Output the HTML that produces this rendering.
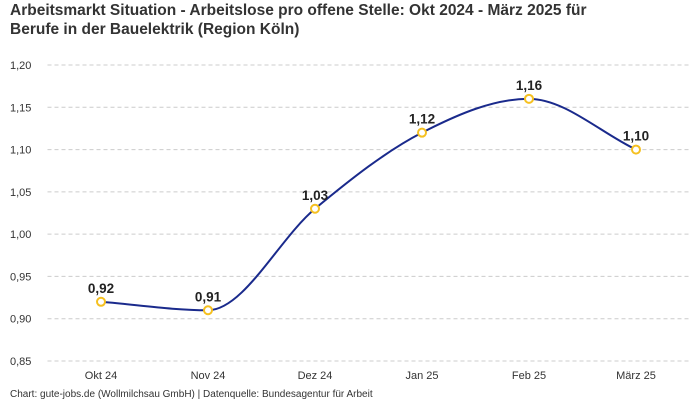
<!DOCTYPE html>
<html><head><meta charset="utf-8"><style>
body{margin:0;background:#fff;font-family:"Liberation Sans",sans-serif;}
#wrap{position:relative;width:700px;height:400px;overflow:hidden;}
</style></head><body>
<div id="wrap">
<svg id="svg" width="700" height="400" xmlns="http://www.w3.org/2000/svg">
<text x="10" y="15" font-size="15.5" font-weight="bold" fill="#333">Arbeitsmarkt Situation - Arbeitslose pro offene Stelle: Okt 2024 - März 2025 für</text>
<text x="10" y="34" font-size="15.5" font-weight="bold" fill="#333">Berufe in der Bauelektrik (Region Köln)</text>
<text x="10" y="397" font-size="10" fill="#333">Chart: gute-jobs.de (Wollmilchsau GmbH) | Datenquelle: Bundesagentur für Arbeit</text>
<g id="grid"></g><g id="plot"></g>
</svg></div>
<script>
const categories=["Okt 24","Nov 24","Dez 24","Jan 25","Feb 25","März 25"];
const values=[0.92,0.91,1.03,1.12,1.16,1.10];
const yTicks=[0.85,0.90,0.95,1.00,1.05,1.10,1.15,1.20];
const NS="http://www.w3.org/2000/svg";
const x0=47.5,x1=689.5,yMin=0.85,yMax=1.20,yTop=65,yBot=361;
const band=(x1-x0)/categories.length;
const xs=i=>x0+band*(i+0.5);
const ys=v=>yBot-(v-yMin)/(yMax-yMin)*(yBot-yTop);
const fmt=v=>v.toFixed(2).replace('.',',');
function mk(t,a,p){const e=document.createElementNS(NS,t);for(const k in a)e.setAttribute(k,a[k]);p.appendChild(e);return e;}
const grid=document.getElementById('grid'),plot=document.getElementById('plot');
yTicks.forEach(v=>{
 const l=mk('line',{x1:x0,x2:x1,y1:ys(v),y2:ys(v),stroke:'#ccc','stroke-dasharray':'4,3'},grid);
 
 
 const t=mk('text',{x:10,y:ys(v)+4,'font-size':11,fill:'#333'},grid);t.textContent=fmt(v);
 
 
});
categories.forEach((c,i)=>{
 const t=mk('text',{x:xs(i),y:379,'font-size':11,fill:'#333','text-anchor':'middle'},grid);t.textContent=c;
 
 
});
// monotone cubic
const P=values.map((v,i)=>[xs(i),ys(v)]);const n=P.length;
const d=[],m=[];for(let i=0;i<n-1;i++)d.push((P[i+1][1]-P[i][1])/(P[i+1][0]-P[i][0]));
m[0]=d[0];m[n-1]=d[n-2];
for(let i=1;i<n-1;i++){m[i]=(d[i-1]*d[i]<=0)?0:(d[i-1]+d[i])/2;}
for(let i=0;i<n-1;i++){if(d[i]===0){m[i]=m[i+1]=0;continue;}const a=m[i]/d[i],b=m[i+1]/d[i],s=a*a+b*b;if(s>9){const t=3/Math.sqrt(s);m[i]=t*a*d[i];m[i+1]=t*b*d[i];}}
let path=`M${P[0][0]},${P[0][1]}`;
for(let i=0;i<n-1;i++){const h=(P[i+1][0]-P[i][0])/3;path+=` C${P[i][0]+h},${P[i][1]+m[i]*h} ${P[i+1][0]-h},${P[i+1][1]-m[i+1]*h} ${P[i+1][0]},${P[i+1][1]}`;}
const line=mk('path',{d:path,fill:'none',stroke:'#1a2a8c','stroke-width':2},plot);


P.forEach((p,i)=>{
 const c=mk('circle',{cx:p[0],cy:p[1],r:4,fill:'#fff',stroke:'#f5c020','stroke-width':2},plot);
 
 
 const t=mk('text',{x:p[0],y:p[1]-9,'font-size':13.5,'font-weight':'bold',fill:'#222','text-anchor':'middle'},plot);t.textContent=fmt(values[i]);
 
 
});
</script></body></html>
